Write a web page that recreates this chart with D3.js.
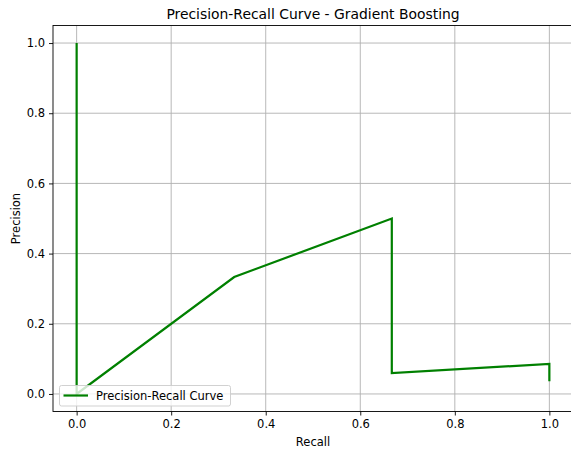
<!DOCTYPE html>
<html>
<head>
<meta charset="utf-8">
<script src="https://cdn.jsdelivr.net/npm/d3@7"></script>
<style>
  html, body { margin: 0; padding: 0; background: #fff; overflow: hidden; }
  svg { display: block; font-family: "DejaVu Sans", sans-serif; }
</style>
</head>
<body>
<div id="chart"></div>
<script>
"use strict";
// PR curve points in the order sklearn returns them (recall high -> low)
const recall = [1.0, 1.0, 0.6667, 0.6667, 0.3333, 0.0, 0.0];
const precision = [0.036, 0.0857, 0.0597, 0.5, 0.3333, 0.0, 1.0];
const xTicks = [0.0, 0.2, 0.4, 0.6, 0.8, 1.0];
const yTicks = [0.0, 0.2, 0.4, 0.6, 0.8, 1.0];
const title = "Precision-Recall Curve - Gradient Boosting";
const seriesName = "Precision-Recall Curve";

const W = 571, H = 453;
const m = { left: 53, right: 573, top: 25.5, bottom: 411.5 };
const fs = 11.5;

const svg = d3.select('#chart').append('svg').attr('width', W).attr('height', H);

const x = d3.scaleLinear().domain([-0.05, 1.05]).range([m.left, m.right]);
const y = d3.scaleLinear().domain([-0.05, 1.05]).range([m.bottom, m.top]);

// grid
const grid = svg.append('g').attr('stroke', '#b0b0b0').attr('stroke-width', 0.9);
xTicks.forEach((t) => grid.append('line').attr('x1', x(t)).attr('x2', x(t)).attr('y1', m.top).attr('y2', m.bottom));
yTicks.forEach((t) => grid.append('line').attr('y1', y(t)).attr('y2', y(t)).attr('x1', m.left).attr('x2', m.right));

// curve
const pts = recall.map((r, i) => [r, precision[i]]);
svg.append('path').datum(pts)
  .attr('d', d3.line().x((d) => x(d[0])).y((d) => y(d[1])))
  .attr('fill', 'none').attr('stroke', 'green').attr('stroke-width', 2.2)
  .attr('stroke-linejoin', 'miter').attr('stroke-linecap', 'butt');

// axes
const xAxis = svg.append('g').attr('transform', `translate(0,${m.bottom})`)
  .call(d3.axisBottom(x).tickValues(xTicks).tickFormat(d3.format('.1f')).tickSize(4).tickPadding(4));
const yAxis = svg.append('g').attr('transform', `translate(${m.left},0)`)
  .call(d3.axisLeft(y).tickValues(yTicks).tickFormat(d3.format('.1f')).tickSize(4).tickPadding(4));
[xAxis, yAxis].forEach((a) => {
  a.select('.domain').remove();
  a.selectAll('line').attr('stroke', '#000').attr('stroke-width', 0.9);
  a.selectAll('text').attr('font-family', 'DejaVu Sans').attr('font-size', fs).attr('fill', '#000');
});

// spines
svg.append('rect').attr('x', m.left).attr('y', m.top).attr('width', m.right - m.left).attr('height', m.bottom - m.top)
  .attr('fill', 'none').attr('stroke', '#000').attr('stroke-width', 0.9);

// labels
svg.append('text').attr('x', (m.left + m.right) / 2).attr('y', 19).attr('text-anchor', 'middle')
  .attr('font-size', 13.9).text(title);
svg.append('text').attr('x', (m.left + m.right) / 2).attr('y', 446).attr('text-anchor', 'middle')
  .attr('font-size', fs).text('Recall');
svg.append('text').attr('transform', 'translate(20,' + ((m.top + m.bottom) / 2) + ') rotate(-90)')
  .attr('text-anchor', 'middle').attr('font-size', fs).text('Precision');

// legend
const lg = svg.append('g');
lg.append('rect').attr('x', 59.5).attr('y', 385.5).attr('width', 171).attr('height', 20.5).attr('rx', 2)
  .attr('fill', '#fff').attr('fill-opacity', 0.8).attr('stroke', '#cccccc').attr('stroke-width', 0.9);
lg.append('line').attr('x1', 63.5).attr('x2', 88).attr('y1', 395.5).attr('y2', 395.5)
  .attr('stroke', 'green').attr('stroke-width', 2.2);
lg.append('text').attr('x', 96).attr('y', 399.5).attr('font-size', fs).text(seriesName);
</script>
</body>
</html>
